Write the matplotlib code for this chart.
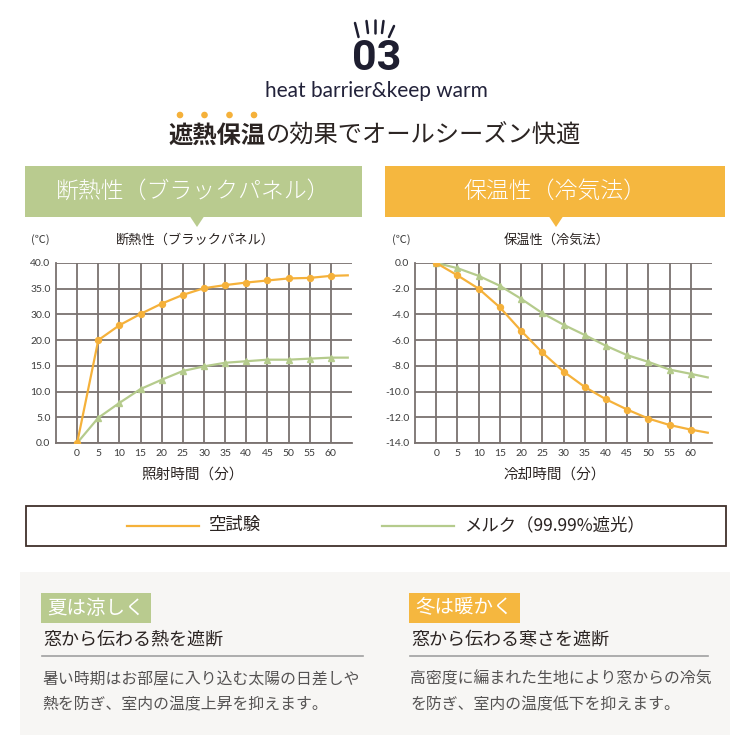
import numpy as np
import matplotlib
matplotlib.use('Agg')
import matplotlib.pyplot as plt
from matplotlib.patches import Rectangle, Polygon
from matplotlib.lines import Line2D

plt.rcParams['font.family'] = ['Noto Sans CJK JP', 'DejaVu Sans']

# minutes (last value = where the curve ends, no marker)
TIME = [0, 5, 10, 15, 20, 25, 30, 35, 40, 45, 50, 55, 60, 64]
TIME_TICKS = [0, 5, 10, 15, 20, 25, 30, 35, 40, 45, 50, 55, 60]

# 断熱性 (℃) - the axis labels skip 25, so the scale follows the labels
HEAT_TICKS = [0, 5, 10, 15, 20, 30, 35, 40]
HEAT_BLANK = [0, 20.0, 25.8, 30.1, 32.1, 33.8, 35.1, 35.7, 36.2, 36.6, 37.0, 37.1, 37.5, 37.6]
HEAT_MERCK = [0, 4.9, 7.8, 10.5, 12.3, 14.0, 14.9, 15.6, 15.9, 16.2, 16.2, 16.4, 16.6, 16.6]

# 保温性 (℃)
COLD_TICKS = [0, -2, -4, -6, -8, -10, -12, -14]
COLD_BLANK = [0, -0.96, -2.0, -3.45, -5.27, -6.96, -8.44, -9.64, -10.6, -11.4, -12.1, -12.6, -12.96, -13.2]
COLD_MERCK = [0, -0.4, -1.0, -1.77, -2.78, -3.9, -4.8, -5.6, -6.44, -7.17, -7.69, -8.29, -8.62, -8.9]

LEGEND_LABELS = ['空試験', 'メルク（99.99%遮光）']

ORANGE = '#f5b13a'
GREEN = '#b5cb8c'
BOX_GREEN = '#b9cb8f'
BOX_ORANGE = '#f5b73f'
NAVY = '#1e1e30'
DARK = '#2b2422'
GRID = '#7a7270'
W = H = 750


def fx(px):
    return px / W


def fy(py):
    return 1 - py / H


fig = plt.figure(figsize=(7.5, 7.5), dpi=100)
fig.patch.set_facecolor('white')


def txt(x, y, s, size, color=DARK, ha='center', va='center', **kw):
    fig.text(fx(x), fy(y), s, fontsize=size, color=color, ha=ha, va=va, **kw)


def rect(x0, y0, x1, y1, color, **kw):
    fig.add_artist(Rectangle((fx(x0), fy(y1)), fx(x1) - fx(x0), fy(y0) - fy(y1),
                             transform=fig.transFigure, facecolor=color, **kw))


# ---- header ----
for (x0, y0), (x1, y1) in [((355, 23), (358.5, 37)), ((366.5, 21), (368, 33)),
                           ((375, 20), (375, 33)), ((383.5, 21), (382, 33)),
                           ((394, 26), (389, 37))]:
    fig.add_artist(Line2D([fx(x0), fx(x1)], [fy(y0), fy(y1)], transform=fig.transFigure,
                          color=NAVY, lw=1.8, solid_capstyle='round'))
txt(377, 59, '03', 31, color=NAVY, weight='bold',
    family=['Liberation Sans Narrow', 'Roboto', 'DejaVu Sans'])
txt(376, 91, 'heat barrier&keep warm', 15, color='#22223a',
    family=['Liberation Sans Narrow', 'Lato', 'DejaVu Sans'])
for dx in [180, 204.5, 229.5, 254]:
    fig.add_artist(plt.Circle((fx(dx), fy(115)), 2.6 / W, transform=fig.transFigure,
                              color=ORANGE))
txt(168, 136, '遮熱保温', 17.5, color=DARK, ha='left', weight='bold')
txt(266, 136, 'の効果でオールシーズン快適', 17.5, color=DARK, ha='left')

# ---- section boxes ----
for x0, x1, tip, color, label in [(25, 362, 197, BOX_GREEN, '断熱性（ブラックパネル）'),
                                  (385, 725, 556, BOX_ORANGE, '保温性（冷気法）')]:
    rect(x0, 166, x1, 217, color, edgecolor='none')
    fig.add_artist(Polygon([(fx(tip - 7), fy(216.5)), (fx(tip + 7), fy(216.5)), (fx(tip), fy(227))],
                           closed=True, transform=fig.transFigure, facecolor=color,
                           edgecolor='none'))
    txt((x0 + x1) / 2, 191, label, 16.5, color='white', weight='light')


# ---- charts ----
def style_axes(ax, ylim, yticks):
    ax.set_xlim(-5, 65)
    ax.set_ylim(*ylim)
    ax.set_xticks(TIME_TICKS)
    ax.set_yticks(yticks)
    ax.set_yticklabels([f'{v:.1f}' for v in yticks])
    ax.grid(True, color=GRID, lw=1.3)
    ax.set_axisbelow(True)
    for side in ['top', 'right']:
        ax.spines[side].set_visible(False)
    for side in ['left', 'bottom']:
        ax.spines[side].set_color(GRID)
        ax.spines[side].set_linewidth(1.3)
    ax.tick_params(length=0, labelsize=7.5, labelcolor='#3c3c3c', pad=4)
    for lab in ax.get_xticklabels() + ax.get_yticklabels():
        lab.set_family(['Lato', 'DejaVu Sans'])


def plot_pair(ax, blank, merck):
    ax.plot(TIME, blank, color=ORANGE, lw=1.6, marker='o', ms=4.3,
            markevery=list(range(len(TIME_TICKS))), zorder=4)
    ax.plot(TIME, merck, color=GREEN, lw=1.6, marker='^', ms=4,
            markevery=list(range(len(TIME_TICKS))), zorder=3)


def heat_fwd(v):
    return np.interp(v, HEAT_TICKS, np.arange(len(HEAT_TICKS)))


def heat_inv(p):
    return np.interp(p, np.arange(len(HEAT_TICKS)), HEAT_TICKS)


ax1 = fig.add_axes([fx(56), fy(443), fx(352) - fx(56), fy(263) - fy(443)])
ax1.set_yscale('function', functions=(heat_fwd, heat_inv))
plot_pair(ax1, HEAT_BLANK, HEAT_MERCK)
style_axes(ax1, (0, 40), HEAT_TICKS)

ax2 = fig.add_axes([fx(415), fy(443), fx(712) - fx(415), fy(263) - fy(443)])
plot_pair(ax2, COLD_BLANK, COLD_MERCK)
style_axes(ax2, (-14, 0), COLD_TICKS)

txt(40, 240, '(℃)', 8, color='#3c3c3c')
txt(195, 240, '断熱性（ブラックパネル）', 9.5, color=DARK)
txt(193, 475, '照射時間（分）', 10.5, color=DARK)
txt(401, 240, '(℃)', 8, color='#3c3c3c')
txt(557, 240, '保温性（冷気法）', 9.5, color=DARK)
txt(555, 475, '冷却時間（分）', 10.5, color=DARK)

# ---- legend ----
rect(26, 506, 726, 546, 'none', edgecolor='#40302b', lw=1.3)
for (x0, x1), color, label in [((127, 199), ORANGE, LEGEND_LABELS[0]),
                               ((382, 454), GREEN, LEGEND_LABELS[1])]:
    fig.add_artist(Line2D([fx(x0), fx(x1)], [fy(526), fy(526)], transform=fig.transFigure,
                          color=color, lw=1.6))
    txt(x1 + 10, 525, label, 12.5, color=DARK, ha='left')

# ---- bottom notes ----
rect(20, 572, 730, 735, '#f7f6f4', edgecolor='none')
notes = [
    (41, 151, BOX_GREEN, '夏は涼しく', '窓から伝わる熱を遮断',
     ['暑い時期はお部屋に入り込む太陽の日差しや', '熱を防ぎ、室内の温度上昇を抑えます。'], 363),
    (409, 520, BOX_ORANGE, '冬は暖かく', '窓から伝わる寒さを遮断',
     ['高密度に編まれた生地により窓からの冷気', 'を防ぎ、室内の温度低下を抑えます。'], 708),
]
for x0, x1, color, tag, head, body, line_end in notes:
    rect(x0, 593, x1, 623, color, edgecolor='none')
    txt((x0 + x1) / 2, 608, tag, 14, color='white')
    txt(x0 + 2, 640, head, 13, color=DARK, ha='left')
    fig.add_artist(Line2D([fx(x0 + 1), fx(line_end)], [fy(656), fy(656)],
                          transform=fig.transFigure, color='#a0a0a0', lw=1.2))
    for i, line in enumerate(body):
        txt(x0 + 1, 679 + i * 26, line, 11.4, color='#555353', ha='left')

fig.savefig('out.png', dpi=100)
